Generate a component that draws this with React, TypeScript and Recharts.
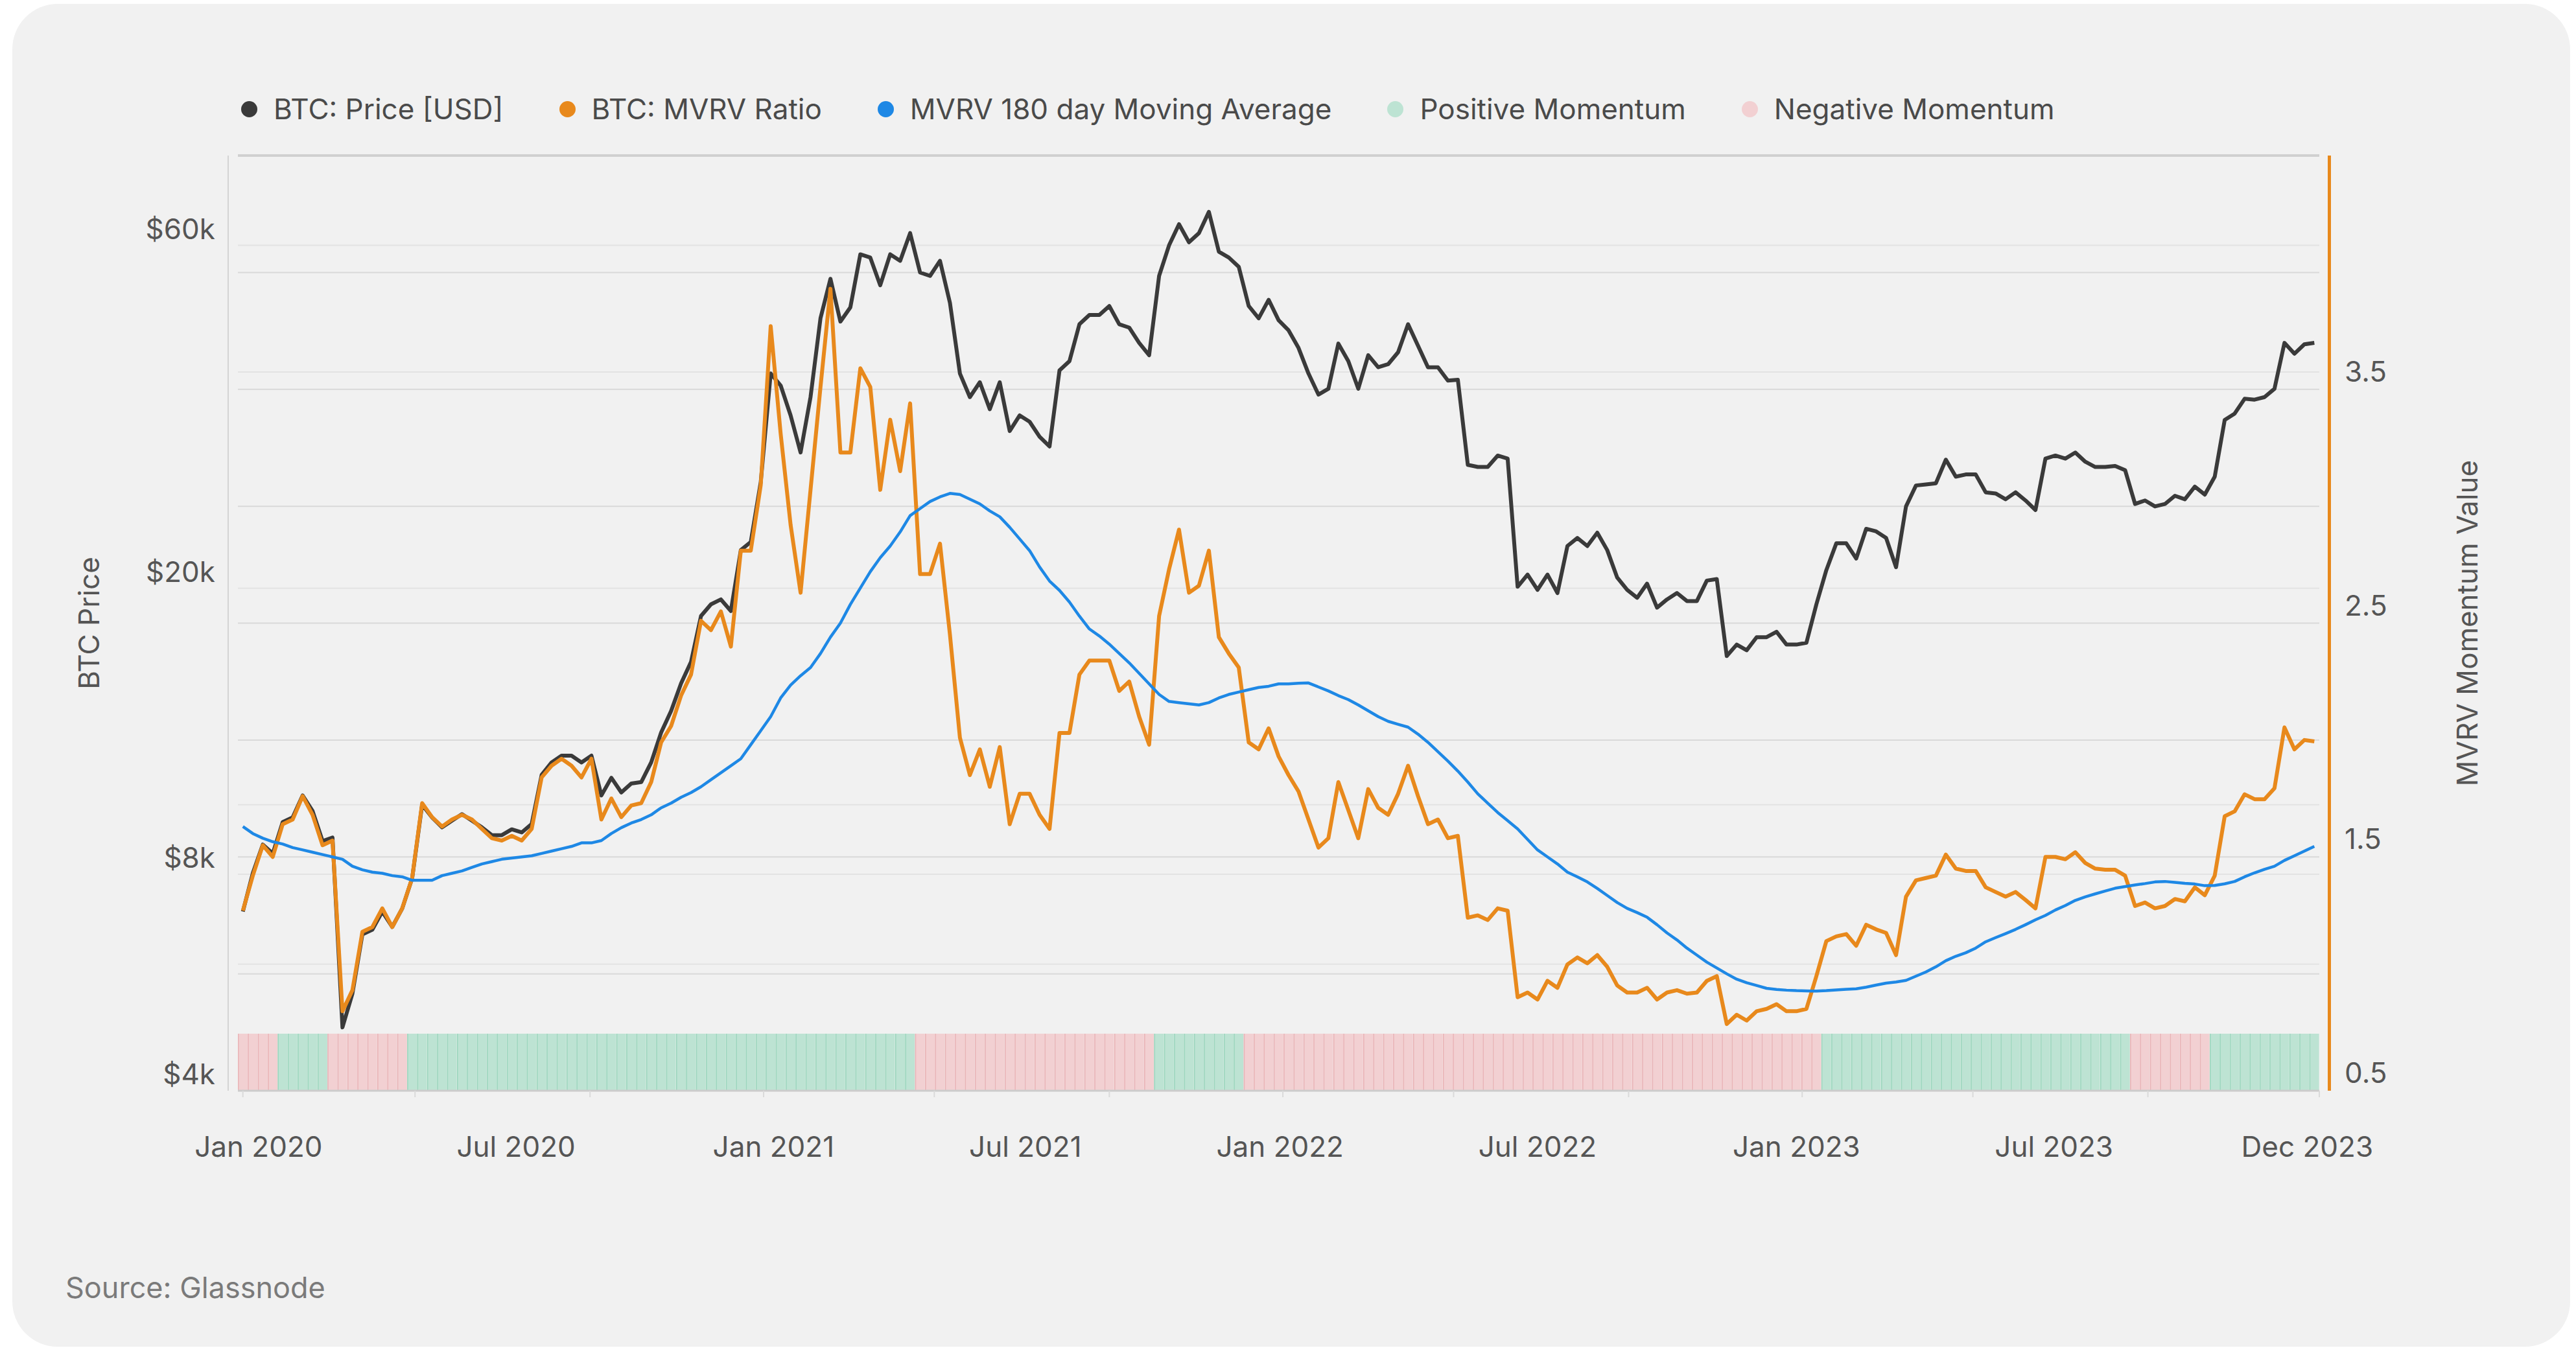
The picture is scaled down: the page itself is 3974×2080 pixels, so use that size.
import React from "react";
import {
  ComposedChart,
  Line,
  Bar,
  XAxis,
  YAxis,
  ReferenceLine,
} from "recharts";

// weekly samples starting 2020-01-01
const START = "2020-01-01";

// BTC price in $k
const priceK = [
  7.1, 8.03, 8.8, 8.55, 9.46, 9.6, 10.3, 9.8, 8.9, 9.0, 4.9, 5.46, 6.6, 6.7, 7.1, 6.76, 7.17, 7.9, 10.0, 9.6,
  9.3, 9.5, 9.7, 9.5, 9.3, 9.07, 9.07, 9.24, 9.15, 9.4, 11.0, 11.45, 11.7, 11.7, 11.45, 11.7, 10.3, 10.9, 10.4, 10.7,
  10.75, 11.45, 12.6, 13.5, 14.75, 15.8, 18.3, 19.0, 19.3, 18.6, 22.6, 23.2, 28.1, 39.8, 38.3, 34.8, 30.9, 36.9, 47.5, 53.9,
  47.0, 49.2, 58.3, 57.7, 52.8, 58.3, 57.1, 62.4, 55.0, 54.4, 57.1, 49.9, 39.8, 36.9, 38.7, 35.5, 38.7, 33.1, 34.8, 34.1,
  32.5, 31.5, 40.2, 41.4, 46.6, 48.0, 48.0, 49.4, 46.6, 46.1, 43.9, 42.2, 54.4, 60.0, 64.2, 60.6, 62.4, 66.8, 58.8, 57.7,
  56.0, 49.4, 47.5, 50.4, 47.2, 45.7, 43.2, 39.8, 37.2, 37.9, 43.8, 41.4, 37.9, 42.2, 40.6, 41.0, 42.6, 46.6, 43.5, 40.6,
  40.6, 38.9, 39.0, 29.7, 29.5, 29.5, 30.6, 30.3, 20.1, 20.9, 19.9, 20.9, 19.7, 22.9, 23.5, 22.9, 23.9, 22.6, 20.7, 19.9,
  19.4, 20.3, 18.8, 19.3, 19.7, 19.2, 19.2, 20.5, 20.6, 16.1, 16.7, 16.4, 17.1, 17.1, 17.4, 16.7, 16.7, 16.8, 19.0, 21.2,
  23.1, 23.1, 22.0, 24.2, 24.0, 23.5, 21.4, 26.0, 27.8, 27.9, 28.0, 30.2, 28.6, 28.8, 28.8, 27.2, 27.1, 26.6, 27.2, 26.5,
  25.7, 30.3, 30.6, 30.3, 30.9, 30.0, 29.5, 29.5, 29.6, 29.2, 26.2, 26.5, 26.0, 26.2, 26.9, 26.6, 27.7, 27.0, 28.6, 34.3,
  35.0, 36.7, 36.6, 36.9, 37.9, 43.9, 42.4, 43.7, 43.9,
];

const mvrv = [
  1.27, 1.42, 1.55, 1.5, 1.64, 1.66, 1.76, 1.68, 1.55, 1.57, 0.84, 0.93, 1.18, 1.2, 1.28, 1.2, 1.28, 1.41, 1.73, 1.67,
  1.63, 1.66, 1.68, 1.66, 1.62, 1.58, 1.57, 1.59, 1.57, 1.62, 1.84, 1.89, 1.92, 1.89, 1.84, 1.92, 1.66, 1.75, 1.67, 1.72,
  1.73, 1.82, 1.99, 2.06, 2.19, 2.28, 2.51, 2.47, 2.55, 2.4, 2.81, 2.81, 3.09, 3.77, 3.31, 2.92, 2.63, 3.07, 3.51, 3.93,
  3.23, 3.23, 3.59, 3.51, 3.07, 3.37, 3.15, 3.44, 2.71, 2.71, 2.84, 2.45, 2.01, 1.85, 1.96, 1.8, 1.97, 1.64, 1.77, 1.77,
  1.68, 1.62, 2.03, 2.03, 2.28, 2.34, 2.34, 2.34, 2.21, 2.25, 2.1, 1.98, 2.53, 2.73, 2.9, 2.63, 2.66, 2.81, 2.44, 2.37,
  2.31, 1.99, 1.96, 2.05, 1.93, 1.85, 1.78, 1.66, 1.54, 1.58, 1.82, 1.7, 1.58, 1.79, 1.71, 1.68, 1.77, 1.89, 1.76, 1.64,
  1.66, 1.58, 1.59, 1.24, 1.25, 1.23, 1.28, 1.27, 0.9, 0.92, 0.89, 0.97, 0.94, 1.04, 1.07, 1.045, 1.08, 1.03, 0.95, 0.92,
  0.92, 0.94, 0.89, 0.92, 0.93, 0.915, 0.92, 0.97, 0.99, 0.785, 0.825, 0.8, 0.84, 0.85, 0.87, 0.84, 0.84, 0.85, 0.99, 1.14,
  1.16, 1.17, 1.12, 1.21, 1.19, 1.175, 1.08, 1.33, 1.4, 1.41, 1.42, 1.51, 1.45, 1.44, 1.44, 1.37, 1.35, 1.33, 1.35, 1.316,
  1.28, 1.5, 1.5, 1.49, 1.52, 1.474, 1.45, 1.445, 1.445, 1.42, 1.29, 1.305, 1.28, 1.29, 1.32, 1.31, 1.37, 1.336, 1.42, 1.674,
  1.695, 1.768, 1.747, 1.747, 1.794, 2.054, 1.96, 2.0, 1.994,
];

const mvrvMa = [
  1.63, 1.6, 1.58, 1.565, 1.555, 1.54, 1.53, 1.52, 1.51, 1.5, 1.49, 1.46, 1.445, 1.435, 1.43, 1.42, 1.415, 1.4, 1.4, 1.4,
  1.42, 1.43, 1.44, 1.455, 1.47, 1.48, 1.49, 1.495, 1.5, 1.505, 1.515, 1.525, 1.535, 1.545, 1.56, 1.56, 1.57, 1.6, 1.625, 1.645,
  1.66, 1.68, 1.71, 1.73, 1.755, 1.775, 1.8, 1.83, 1.86, 1.89, 1.92, 1.98, 2.04, 2.1, 2.18, 2.235, 2.275, 2.31, 2.37, 2.44,
  2.5, 2.58, 2.65, 2.72, 2.78, 2.83, 2.89, 2.96, 2.99, 3.02, 3.04, 3.055, 3.05, 3.03, 3.01, 2.98, 2.955, 2.91, 2.86, 2.81,
  2.74, 2.68, 2.64, 2.59, 2.53, 2.475, 2.445, 2.41, 2.37, 2.33, 2.285, 2.24, 2.195, 2.165, 2.16, 2.155, 2.15, 2.16, 2.18, 2.195,
  2.205, 2.215, 2.225, 2.23, 2.24, 2.24, 2.243, 2.244, 2.227, 2.21, 2.19, 2.173, 2.15, 2.125, 2.1, 2.08, 2.067, 2.055, 2.025, 1.99,
  1.95, 1.91, 1.867, 1.82, 1.77, 1.73, 1.69, 1.655, 1.62, 1.575, 1.53, 1.5, 1.47, 1.435, 1.415, 1.393, 1.365, 1.335, 1.305, 1.28,
  1.262, 1.242, 1.21, 1.175, 1.145, 1.11, 1.08, 1.05, 1.025, 1.0, 0.977, 0.962, 0.95, 0.938, 0.933, 0.93, 0.928, 0.927, 0.926, 0.928,
  0.931, 0.934, 0.936, 0.943, 0.952, 0.96, 0.965, 0.972, 0.99, 1.008, 1.03, 1.056, 1.075, 1.09, 1.11, 1.137, 1.155, 1.172, 1.19, 1.21,
  1.231, 1.25, 1.273, 1.292, 1.314, 1.329, 1.342, 1.354, 1.366, 1.373, 1.38, 1.386, 1.393, 1.395, 1.391, 1.387, 1.384, 1.377, 1.378, 1.385,
  1.395, 1.415, 1.432, 1.447, 1.46, 1.485, 1.505, 1.525, 1.545,
];

// momentum regimes: [first week, last week, +1 positive / -1 negative]
const momentumRuns = [
  [0, 3, -1],
  [4, 8, 1],
  [9, 16, -1],
  [17, 67, 1],
  [68, 91, -1],
  [92, 100, 1],
  [101, 158, -1],
  [159, 189, 1],
  [190, 197, -1],
  [198, 208, 1],
];

const priceTicks = [4000, 8000, 20000, 60000];
const priceGrid = [6000, 8000, 10000, 20000, 40000, 60000];
const mvrvTicks = [0.5, 1.5, 2.5, 3.5];
const mvrvGrid = [1, 1.5, 2, 2.5, 3, 3.5, 4];

const tickMarkDates = [
  "2020-01-01", "2020-05-01", "2020-09-01", "2021-01-01", "2021-05-01", "2021-09-01", "2022-01-01",
  "2022-05-01", "2022-09-01", "2023-01-01", "2023-05-01", "2023-09-01", "2024-01-01",
];
const dateLabels = ["Jan 2020", "Jul 2020", "Jan 2021", "Jul 2021", "Jan 2022", "Jul 2022", "Jan 2023", "Jul 2023", "Dec 2023"];
// label anchors (days after START) – labels sit evenly spaced under the axis
const dateLabelDays = [11, 192, 373, 550, 729, 910, 1092, 1273, 1451];

const PRICE_COLOR = "#3a3a3a";
const MVRV_COLOR = "#e8891c";
const MA_COLOR = "#1e88e5";
const POS_COLOR = "#bde3d3";
const POS_STRIPE = "#9bd6bd";
const NEG_COLOR = "#f2d0d2";
const NEG_STRIPE = "#e9b3b6";
const TEXT = "#555555";
const FONT = "Inter, 'Noto Sans', sans-serif";

const dayOf = (d: string) => Math.round((Date.parse(d) - Date.parse(START)) / 86400000);
const X_MIN = -3.5;
const X_MAX = (priceK.length - 1) * 7 + 3.5;
const tickMarkDays = tickMarkDates.map((d) => Math.min(dayOf(d), X_MAX));

const momentumOf = (w: number) => {
  for (const [a, b, s] of momentumRuns) if (w >= a && w <= b) return s;
  return 0;
};

const rows = priceK.map((p, i) => ({
  week: i,
  day: i * 7,
  price: p * 1000,
  mvrv: mvrv[i],
  ma: mvrvMa[i],
  pos: momentumOf(i) > 0 ? 1 : 0,
  neg: momentumOf(i) < 0 ? 1 : 0,
}));

const legendItems = [
  { label: "BTC: Price [USD]", color: PRICE_COLOR },
  { label: "BTC: MVRV Ratio", color: MVRV_COLOR },
  { label: "MVRV 180 day Moving Average", color: MA_COLOR },
  { label: "Positive Momentum", color: POS_COLOR },
  { label: "Negative Momentum", color: NEG_COLOR },
];

const stripeBar = (stripe: string) => (props: any) => {
  const { x, y, width, height, fill } = props;
  if (!height || height <= 0) return <g />;
  return (
    <g>
      <rect x={x} y={y} width={width} height={height} fill={fill} />
      <line x1={x + 0.75} x2={x + 0.75} y1={y} y2={y + height} stroke={stripe} strokeWidth={1.5} />
    </g>
  );
};

const renderXTick = (props: any) => {
  const { x, y, payload } = props;
  const li = dateLabelDays.indexOf(payload.value);
  if (li >= 0) {
    return (
      <text x={x} y={y + 86} textAnchor="middle" dominantBaseline="central" fill={TEXT} fontSize={44} fontFamily={FONT}>
        {dateLabels[li]}
      </text>
    );
  }
  return <line x1={x} x2={x} y1={y} y2={y + 10} stroke="#dadada" strokeWidth={2} />;
};

const fmtPrice = (v: number) => `$${Math.round(v / 1000)}k`;

const renderLeftTick = (props: any) => {
  const { x, y, payload } = props;
  return (
    <text x={x} y={y - 26} textAnchor="end" dominantBaseline="central" fill={TEXT} fontSize={44} fontFamily={FONT}>
      {fmtPrice(payload.value)}
    </text>
  );
};

const renderRightTick = (props: any) => {
  const { x, y, payload } = props;
  return (
    <text x={x} y={y - 28} textAnchor="start" dominantBaseline="central" fill={TEXT} fontSize={44} fontFamily={FONT}>
      {payload.value.toFixed(1)}
    </text>
  );
};

export default function App() {
  return (
    <div style={{ position: "absolute", left: 0, top: 0, width: 3974, height: 2080, background: "#ffffff", fontFamily: FONT, overflow: "hidden" }}>
      <div style={{ position: "absolute", left: 19, top: 6, width: 3946, height: 2072, borderRadius: 70, background: "#f1f1f1" }} />

      {/* legend */}
      <div style={{ position: "absolute", left: 372, top: 143, height: 50, display: "flex", alignItems: "center", gap: 86, fontSize: 44, color: "#4a4a4a", whiteSpace: "nowrap" }}>
        {legendItems.map((it) => (
          <div key={it.label} style={{ display: "flex", alignItems: "center" }}>
            <span style={{ display: "inline-block", width: 25, height: 25, borderRadius: "50%", background: it.color, marginRight: 25 }} />
            {it.label}
          </div>
        ))}
      </div>

      {/* axis spines sit just outside the plot */}
      <div style={{ position: "absolute", left: 351, top: 240, width: 2, height: 1443, background: "#d4d4d4" }} />
      <div style={{ position: "absolute", left: 3591, top: 240, width: 5, height: 1443, background: MVRV_COLOR }} />

      <div style={{ position: "absolute", left: 0, top: 0 }}>
        <ComposedChart
          width={3974}
          height={2080}
          data={rows}
          margin={{ top: 240, right: 0, bottom: 277, left: 0 }}
          barCategoryGap={0}
          barGap={0}
        >
          <XAxis
            xAxisId="time"
            dataKey="day"
            type="number"
            domain={[X_MIN, X_MAX]}
            allowDataOverflow
            ticks={[...tickMarkDays, ...dateLabelDays]}
            interval={0}
            tickLine={false}
            tickSize={0}
            tickMargin={0}
            height={120}
            axisLine={{ stroke: "#cccccc", strokeWidth: 3 }}
            tick={renderXTick}
          />
          <XAxis xAxisId="band" dataKey="week" type="category" hide height={0} />
          <YAxis
            yAxisId="price"
            orientation="left"
            type="number"
            scale="log"
            domain={[4000, 80000]}
            allowDataOverflow
            ticks={priceTicks}
            interval={0}
            width={367}
            axisLine={false}
            tickLine={false}
            tickSize={0}
            tickMargin={35}
            tick={renderLeftTick}
            label={{
              value: "BTC Price",
              angle: -90,
              position: "insideLeft",
              offset: 137,
              fill: TEXT,
              fontSize: 44,
              fontFamily: FONT,
              style: { textAnchor: "middle" },
            }}
          />
          <YAxis
            yAxisId="mvrv"
            orientation="right"
            type="number"
            domain={[0.5, 4.5]}
            allowDataOverflow
            ticks={mvrvTicks}
            interval={0}
            width={396}
            axisLine={false}
            tickLine={false}
            tickSize={0}
            tickMargin={39}
            tick={renderRightTick}
            label={{
              value: "MVRV Momentum Value",
              angle: -90,
              position: "insideRight",
              offset: 168,
              fill: TEXT,
              fontSize: 44,
              fontFamily: FONT,
              style: { textAnchor: "middle" },
            }}
          />
          <YAxis yAxisId="mom" hide orientation="right" width={0} type="number" domain={[0, 16.4]} allowDataOverflow />

          {priceGrid.map((v) => (
            <ReferenceLine key={`pg${v}`} xAxisId="time" yAxisId="price" y={v} stroke="#e3e3e3" strokeWidth={2} zIndex={-10} />
          ))}
          {mvrvGrid.map((v) => (
            <ReferenceLine key={`mg${v}`} xAxisId="time" yAxisId="mvrv" y={v} stroke="#d9d9d9" strokeWidth={2} zIndex={-10} />
          ))}
          <ReferenceLine xAxisId="time" yAxisId="mvrv" y={4.5} stroke="#d0d0d0" strokeWidth={4} zIndex={-10} />

          <Bar xAxisId="band" yAxisId="mom" dataKey="pos" stackId="m" fill={POS_COLOR} shape={stripeBar(POS_STRIPE)} isAnimationActive={false} />
          <Bar xAxisId="band" yAxisId="mom" dataKey="neg" stackId="m" fill={NEG_COLOR} shape={stripeBar(NEG_STRIPE)} isAnimationActive={false} />

          <Line xAxisId="time" yAxisId="price" dataKey="price" type="linear" stroke={PRICE_COLOR} strokeWidth={6} dot={false} strokeLinejoin="round" isAnimationActive={false} />
          <Line xAxisId="time" yAxisId="mvrv" dataKey="mvrv" type="linear" stroke={MVRV_COLOR} strokeWidth={6} dot={false} strokeLinejoin="round" isAnimationActive={false} />
          <Line xAxisId="time" yAxisId="mvrv" dataKey="ma" type="linear" stroke={MA_COLOR} strokeWidth={4.5} dot={false} strokeLinejoin="round" isAnimationActive={false} />
        </ComposedChart>
      </div>

      <div style={{ position: "absolute", left: 101, top: 1962, fontSize: 45, lineHeight: "50px", color: "#7a7a7a" }}>Source: Glassnode</div>
    </div>
  );
}
